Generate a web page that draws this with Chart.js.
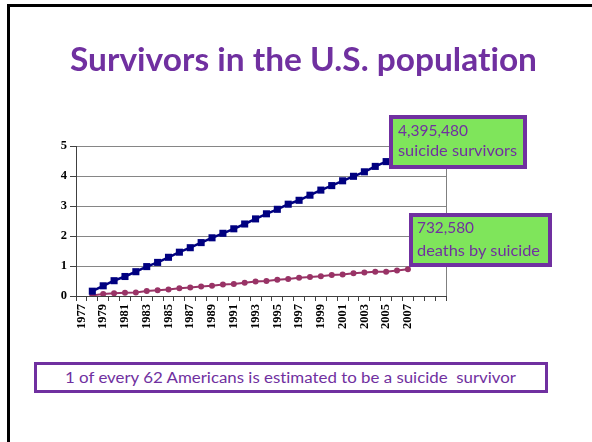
<!DOCTYPE html>
<html><head><meta charset="utf-8">
<script src="https://cdn.jsdelivr.net/npm/chart.js@4"></script>
<style>
html,body{margin:0;padding:0;background:#fff;}
#wrap{position:relative;width:592px;height:442px;overflow:hidden;background:#fff;}
#c{position:absolute;left:0;top:0;}
.bl{position:absolute;background:#000;}
.t{position:absolute;white-space:nowrap;color:#7030A0;font-family:Lato,'Open Sans',sans-serif;transform-origin:0 0;font-variant-ligatures:none;font-feature-settings:"liga" 0,"clig" 0;}
.box{position:absolute;background:#7FE55B;border:4px solid #7030A0;box-sizing:border-box;}
.note{position:absolute;background:#fff;border:3px solid #7030A0;box-sizing:border-box;}
</style></head>
<body><div id="wrap">
<canvas id="c" width="592" height="442"></canvas>
<div class="bl" style="left:7px;top:4px;width:3px;height:438px"></div>
<div class="bl" style="left:7px;top:4px;width:585px;height:3px"></div>
<div class="box" style="left:389px;top:115px;width:138px;height:54px"></div>
<div class="box" style="left:409px;top:213px;width:143px;height:54px"></div>
<div class="note" style="left:34px;top:362px;width:514px;height:31px"></div>
<div class="t" id="title">Survivors in the U.S. population</div>
<div class="t" id="b1a">4,395,480</div>
<div class="t" id="b1b">suicide survivors</div>
<div class="t" id="b2a">732,580</div>
<div class="t" id="b2b">deaths by suicide</div>
<div class="t" id="note">1 of every 62 Americans is estimated to be a suicide&nbsp; survivor</div>
</div>
<script>
// ---- data ----
const years = ['1977','1978','1979','1980','1981','1982','1983','1984','1985','1986','1987','1988','1989','1990','1991','1992','1993','1994','1995','1996','1997','1998','1999','2000','2001','2002','2003','2004','2005','2006','2007','2008','2009','2010'];
const tickLabels = ['1977','','1979','','1981','','1983','','1985','','1987','','1989','','1991','','1993','','1995','','1997','','1999','','2001','','2003','','2005','','2007','','',''];
const survivors = [null,0.16,0.34,0.51,0.65,0.81,0.98,1.12,1.29,1.46,1.61,1.78,1.94,2.09,2.24,2.40,2.57,2.74,2.89,3.06,3.19,3.36,3.53,3.68,3.84,3.99,4.14,4.32,4.48,4.63,4.79,null,null,null];
const deaths = [null,0.02,0.07,0.09,0.11,0.12,0.17,0.19,0.22,0.26,0.28,0.32,0.34,0.38,0.40,0.44,0.48,0.50,0.54,0.57,0.61,0.63,0.66,0.70,0.72,0.76,0.78,0.81,0.81,0.85,0.89,null,null,null];
const yTicks = [0,1,2,3,4,5];

// ---- text placement (Lato baseline ~0.887em with line-height 1) ----
function place(id, left, baseline, size, width, bold){
  const el = document.getElementById(id);
  el.style.fontSize = size + 'px';
  el.style.lineHeight = size + 'px';
  el.style.fontWeight = bold ? '700' : '400';
  el.style.left = left + 'px';
  el.style.top = (baseline - 0.887*size) + 'px';
  const w = el.getBoundingClientRect().width;
  if (width && w > 0) el.style.transform = 'scaleX(' + (width / w) + ')';
}
function layoutText(){
  place('title', 70, 71, 32, 467, true);
  place('b1a', 398, 137, 14.5, 70, false);
  place('b1b', 398, 157, 14.5, 119, false);
  place('b2a', 417, 234, 14.5, 57, false);
  place('b2b', 417, 257, 14.5, 123, false);
  place('note', 65, 384, 15.5, 451, false);
}

const frame = {
  id:'frame',
  afterDatasetsDraw(chart){
    const a = chart.chartArea, ctx = chart.ctx;
    ctx.save();
    ctx.strokeStyle = '#808080'; ctx.lineWidth = 1;
    ctx.beginPath(); ctx.moveTo(Math.round(a.right)+0.5, a.top); ctx.lineTo(Math.round(a.right)+0.5, a.bottom); ctx.stroke();
    ctx.restore();
  }
};

const tickFont = {family:"'Liberation Serif','Times New Roman',serif", size:12.5, weight:'bold'};

new Chart(document.getElementById('c'), {
  type:'line',
  data:{
    labels: years,
    datasets:[
      {label:'Suicide survivors', data: survivors, borderColor:'#000080', backgroundColor:'#000080', borderWidth:2.5,
       pointStyle:'rect', pointRadius:5, pointBorderWidth:0, pointHoverRadius:5, tension:0, spanGaps:false},
      {label:'Deaths by suicide', data: deaths, borderColor:'#993366', backgroundColor:'#993366', borderWidth:2,
       pointStyle:'circle', pointRadius:3, pointBorderWidth:0, pointHoverRadius:3, tension:0}
    ]
  },
  options:{
    responsive:false, animation:false, devicePixelRatio:1,
    layout:{padding:{left:40, top:146, right:146, bottom:100}},
    plugins:{legend:{display:false}, tooltip:{enabled:false}},
    scales:{
      x:{
        type:'category', offset:true,
        grid:{display:true, drawOnChartArea:false, drawTicks:true, tickLength:5, offset:true, color:'#404040'},
        border:{display:true, color:'#404040', width:1},
        ticks:{autoSkip:false, maxRotation:90, minRotation:90, padding:3, color:'#000', font:tickFont,
          callback:(v,i)=>tickLabels[i]},
        afterFit:s=>{s.height=46;}
      },
      y:{
        min:0, max:5,
        afterBuildTicks:s=>{s.ticks = yTicks.map(v=>({value:v}));},
        grid:{color:'#868686', lineWidth:1, drawTicks:true, tickLength:6, tickColor:'#404040'},
        border:{display:true, color:'#404040', width:1},
        ticks:{padding:3, color:'#000', font:tickFont},
        afterFit:s=>{s.width=36;}
      }
    }
  },
  plugins:[frame]
});
layoutText();
</script>
</body></html>
